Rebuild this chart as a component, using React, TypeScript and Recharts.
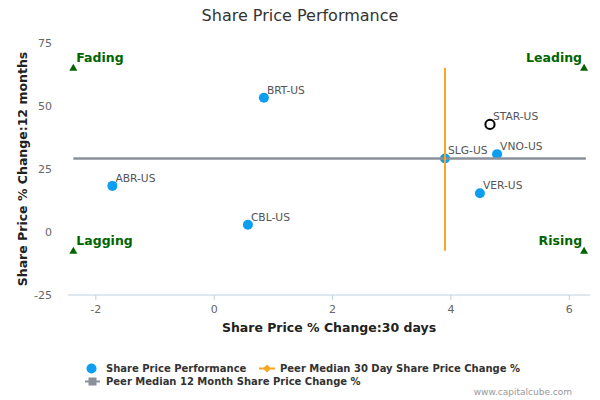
import React from 'react';
import { ScatterChart, Scatter, XAxis, YAxis, Legend, LabelList } from 'recharts';

const FONT = '"DejaVu Sans", Verdana, sans-serif';

// Peer companies
const tickers = ['BRT-US', 'ABR-US', 'CBL-US', 'SLG-US', 'VNO-US', 'VER-US'];
const change30d = [0.84, -1.72, 0.57, 3.9, 4.78, 4.49];
const change12m = [53.3, 18.3, 2.9, 29.2, 30.9, 15.4];

// Focus company
const focusTickers = ['STAR-US'];
const focus30d = [4.66];
const focus12m = [42.7];

// Peer medians
const peerMedian30d = 3.9;
const peerMedian12m = 29.2;
const hLineX = [-2.38, 6.28];
const vLineY = [65.2, -7.4];

// Quadrant markers
const quadrantNames = ['Fading', 'Leading', 'Lagging', 'Rising'];
const quadrantX = [-2.38, 6.25, -2.38, 6.25];
const quadrantY = [65.2, 65.2, -7.4, -7.4];

const xTicks = [-2, 0, 2, 4, 6];
const yTicks = [-25, 0, 25, 50, 75];
const xDomain = [-2.47, 6.35];
const yDomain = [-25, 75];

const BLUE = '#0c9ef0';
const ORANGE = '#f7a623';
const GRAY = '#8b909b';
const GREEN = '#006400';

const peers = tickers.map((t, i) => ({ name: t, x: change30d[i], y: change12m[i] }));
const focus = focusTickers.map((t, i) => ({ name: t, x: focus30d[i], y: focus12m[i] }));
const hLine = hLineX.map((x) => ({ x, y: peerMedian12m }));
const vLine = vLineY.map((y) => ({ x: peerMedian30d, y }));
const quadrants = quadrantNames.map((n, i) => ({ name: n, x: quadrantX[i], y: quadrantY[i], right: i % 2 === 1 }));

const center = (p: any) => {
  if (p.cx !== undefined) return { cx: p.cx, cy: p.cy };
  const vb = p.viewBox && p.viewBox.x !== undefined ? p.viewBox : p;
  return { cx: vb.x + (vb.width || 0) / 2, cy: vb.y + (vb.height || 0) / 2 };
};

const BlueDot = (p: any) => <circle cx={p.cx} cy={p.cy} r={5} fill={BLUE} />;
const RingDot = (p: any) => <circle cx={p.cx} cy={p.cy} r={4.6} fill="#fff" stroke="#000" strokeWidth={2} />;
const Triangle = (p: any) => (
  <path d={`M${p.cx},${p.cy - 4} L${p.cx + 4},${p.cy + 3} L${p.cx - 4},${p.cy + 3} Z`} fill={GREEN} />
);
const NoDot = () => <g />;

const PointLabel = (p: any) => {
  const { cx, cy } = center(p);
  return (
    <text x={cx + 3} y={cy - 4} fontSize={10.7} fill="#555" fontFamily={FONT}>
      {p.value}
    </text>
  );
};

const QuadLabel = (p: any) => {
  const { cx, cy } = center(p);
  const right = quadrants[p.index] && quadrants[p.index].right;
  return (
    <text
      x={right ? cx - 2 : cx + 3}
      y={cy - 6}
      textAnchor={right ? 'end' : 'start'}
      fontSize={12.5}
      fontWeight="bold"
      fill={GREEN}
      fontFamily={FONT}
    >
      {p.value}
    </text>
  );
};

const XLabel = (p: any) => {
  const vb = p.viewBox;
  return (
    <text x={vb.x + vb.width / 2} y={332} textAnchor="middle" fontSize={12.5} fontWeight="bold" fill="#222" fontFamily={FONT}>
      Share Price % Change:30 days
    </text>
  );
};

const YLabel = (p: any) => {
  const vb = p.viewBox;
  const cx = 22;
  const cy = vb.y + vb.height / 2;
  return (
    <text
      x={cx}
      y={cy}
      transform={`rotate(-90 ${cx} ${cy})`}
      textAnchor="middle"
      dominantBaseline="central"
      fontSize={12.5}
      fontWeight="bold"
      fill="#222"
      fontFamily={FONT}
    >
      Share Price % Change:12 months
    </text>
  );
};

const LegendBox = () => (
  <svg width={600} height={45} style={{ display: 'block' }}>
    <g fontFamily={FONT} fontSize={10} fontWeight="bold" fill="#333">
      <circle cx={91.5} cy={13.5} r={5} fill={BLUE} />
      <text x={106} y={17}>Share Price Performance</text>
      <line x1={259} y1={13.5} x2={275} y2={13.5} stroke={ORANGE} strokeWidth={2} />
      <path d="M267,9.5 L271,13.5 L267,17.5 L263,13.5 Z" fill={ORANGE} />
      <text x={280} y={17}>Peer Median 30 Day Share Price Change %</text>
      <line x1={85} y1={26.5} x2={100} y2={26.5} stroke={GRAY} strokeWidth={2} />
      <rect x={88.5} y={22.5} width={8} height={8} fill={GRAY} />
      <text x={106} y={30}>Peer Median 12 Month Share Price Change %</text>
    </g>
    <text x={572} y={40} textAnchor="end" fontFamily={FONT} fontSize={9} fill="#999">
      www.capitalcube.com
    </text>
  </svg>
);

export default function App() {
  return (
    <div style={{ position: 'absolute', left: 0, top: 0, width: 600, height: 400, background: '#fff' }}>
      <div
        style={{
          position: 'absolute',
          left: 0,
          top: 6,
          width: 600,
          textAlign: 'center',
          fontFamily: FONT,
          fontSize: 16,
          color: '#333',
          lineHeight: '20px',
          zIndex: 2,
        }}
      >
        Share Price Performance
      </div>
      <ScatterChart width={600} height={400} margin={{ top: 43, right: 10, bottom: 65, left: 0 }}>
        <XAxis
          type="number"
          dataKey="x"
          domain={xDomain}
          ticks={xTicks}
          allowDataOverflow
          height={40}
          axisLine={{ stroke: '#c0d0e0' }}
          tickLine={{ stroke: '#c0d0e0' }}
          tickSize={5}
          tickMargin={5}
          tick={{ fill: '#666', fontSize: 11, fontFamily: FONT }}
          label={{ content: XLabel }}
        />
        <YAxis
          type="number"
          dataKey="y"
          domain={yDomain}
          ticks={yTicks}
          allowDataOverflow
          width={68}
          axisLine={false}
          tickLine={false}
          tickSize={0}
          tickMargin={16}
          tick={{ fill: '#666', fontSize: 11, fontFamily: FONT }}
          label={{ content: YLabel }}
        />
        <Legend
          layout="vertical"
          align="center"
          verticalAlign="middle"
          wrapperStyle={{ left: 0, top: 355, width: 600, height: 45 }}
          content={() => <LegendBox />}
        />
        <Scatter name="Share Price Performance" data={peers} fill={BLUE} shape={BlueDot} isAnimationActive={false}>
          <LabelList dataKey="name" content={PointLabel} />
        </Scatter>
        <Scatter name="Focus" data={focus} fill="#000" shape={RingDot} isAnimationActive={false}>
          <LabelList dataKey="name" content={PointLabel} />
        </Scatter>
        <Scatter
          name="Peer Median 12 Month Share Price Change %"
          data={hLine}
          fill={GRAY}
          line={{ stroke: GRAY, strokeWidth: 2.5 }}
          shape={NoDot}
          isAnimationActive={false}
        />
        <Scatter
          name="Peer Median 30 Day Share Price Change %"
          data={vLine}
          fill={ORANGE}
          line={{ stroke: ORANGE, strokeWidth: 2 }}
          shape={NoDot}
          isAnimationActive={false}
        />
        <Scatter name="Quadrants" data={quadrants} fill={GREEN} shape={Triangle} isAnimationActive={false}>
          <LabelList dataKey="name" content={QuadLabel} />
        </Scatter>
      </ScatterChart>
    </div>
  );
}
